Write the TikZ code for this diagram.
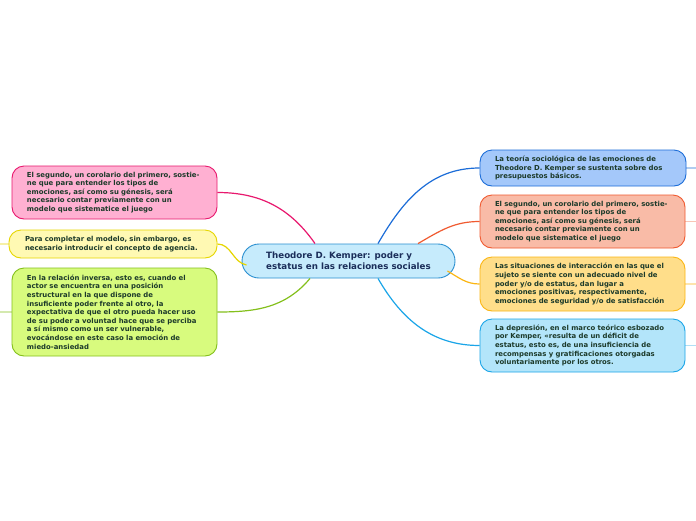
\documentclass[tikz,border=0pt]{standalone}
\usepackage{fontspec}
\setmainfont{DejaVu Sans}
\definecolor{txt}{HTML}{1C3A2A}
\definecolor{ctxt}{HTML}{1B2E5A}
\definecolor{pinkF}{HTML}{FFB0D2}\definecolor{pinkD}{HTML}{E8186E}
\definecolor{yelF}{HTML}{FFF9B3}\definecolor{yelD}{HTML}{E6D600}
\definecolor{grnF}{HTML}{D8FB7E}\definecolor{grnD}{HTML}{84C01C}
\definecolor{bluF}{HTML}{A4C8FA}\definecolor{bluD}{HTML}{1C6DD8}
\definecolor{salF}{HTML}{F9BBA7}\definecolor{salD}{HTML}{F05A30}
\definecolor{oraF}{HTML}{FFDE8A}\definecolor{oraD}{HTML}{FBB614}
\definecolor{lbF}{HTML}{B3E5FA}\definecolor{lbD}{HTML}{1AA5E8}
\definecolor{cenF}{HTML}{C6EBFC}\definecolor{cenD}{HTML}{2A8FD0}
\begin{document}
\begin{tikzpicture}[x=1pt,y=-1pt,
  box/.style={draw, line width=0.9pt, rounded corners=12pt, minimum width=205pt,
    text width=175pt, inner xsep=15pt, inner ysep=0pt, align=left,
    text=txt, font=\fontsize{6.9pt}{8.6pt}\selectfont\bfseries},
  conn/.style={line width=1.2pt},
  stub/.style={line width=1.2pt, opacity=0.35}]
\useasboundingbox (0,0) rectangle (696,520);
\fill[white] (0,0) rectangle (696,520);
% central
\node[draw=cenD, fill=cenF, line width=0.9pt, rounded corners=17pt, minimum width=213pt,
  minimum height=34pt, align=left, text=ctxt,
  font=\fontsize{8.7pt}{11pt}\selectfont\bfseries] (c) at (348.5,261)
  {Theodore D. Kemper: poder y\\estatus en las relaciones sociales};
% left
\node[box, draw=pinkD, fill=pinkF, minimum height=53pt] (p) at (114.5,192.5)
  {El segundo, un corolario del primero, sostie-\\ne que para entender los tipos de\\emociones, así como su génesis, será\\necesario contar previamente con un\\modelo que sistematice el juego};
\node[box, draw=yelD, fill=yelF, minimum height=28pt, minimum width=208pt, text width=176pt, inner xsep=16pt] (y) at (113,244)
  {Para completar el modelo, sin embargo, es\\necesario introducir el concepto de agencia.};
\node[box, draw=grnD, fill=grnF, minimum height=88pt] (g) at (114.5,312)
  {En la relación inversa, esto es, cuando el\\actor se encuentra en una posición\\estructural en la que dispone de\\insuficiente poder frente al otro, la\\expectativa de que el otro pueda hacer uso\\de su poder a voluntad hace que se perciba\\a sí mismo como un ser vulnerable,\\evocándose en este caso la emoción de\\miedo-ansiedad};
% right
\node[box, draw=bluD, fill=bluF, minimum height=36pt, minimum width=206pt, text width=176pt] (b) at (583,168)
  {La teoría sociológica de las emociones de\\Theodore D. Kemper se sustenta sobre dos\\presupuestos básicos.};
\node[box, draw=salD, fill=salF, minimum height=53pt] (s) at (582.5,221.5)
  {El segundo, un corolario del primero, sostie-\\ne que para entender los tipos de\\emociones, así como su génesis, será\\necesario contar previamente con un\\modelo que sistematice el juego};
\node[box, draw=oraD, fill=oraF, minimum height=54pt] (o) at (582.5,284)
  {Las situaciones de interacción en las que el\\sujeto se siente con un adecuado nivel de\\poder y/o de estatus, dan lugar a\\emociones positivas, respectivamente,\\emociones de seguridad y/o de satisfacción};
\node[box, draw=lbD, fill=lbF, minimum height=53pt] (l) at (582.5,345.5)
  {La depresión, en el marco teórico esbozado\\por Kemper, «resulta de un déficit de\\estatus, esto es, de una insuficiencia de\\recompensas y gratificaciones otorgadas\\voluntariamente por los otros.};
% connectors
\draw[conn, pinkD] (p.east) to[out=0,in=125] ([xshift=-33.5pt]c.north);
\draw[conn, yelD] (y.east) to[out=0,in=170] ([xshift=5pt,yshift=-4pt]c.west);
\draw[conn, grnD] (g.east) to[out=0,in=-130] ([xshift=-38.5pt]c.south);
\draw[conn, bluD] ([xshift=29.5pt]c.north) to[out=60,in=180] (b.west);
\draw[conn, salD] ([xshift=69.5pt]c.north) to[out=30,in=180] (s.west);
\draw[conn, oraD] ([xshift=-8pt,yshift=-10pt]c.east) to[out=-30,in=180] (o.west);
\draw[conn, lbD] ([xshift=29.5pt]c.south) to[out=-60,in=180] (l.west);
% stubs
\coordinate (sb) at (696,168);
\coordinate (ss) at (696,221.5);
\coordinate (so) at (696,284);
\coordinate (sl) at (696,345.5);
\coordinate (sy) at (0,244);
\coordinate (sg) at (0,312);
\draw[stub, bluD] (b.east) -- (sb);
\draw[stub, salD] (s.east) -- (ss);
\draw[stub, oraD] (o.east) -- (so);
\draw[stub, lbD] (l.east) -- (sl);
\draw[stub, yelD] (y.west) -- (sy);
\draw[stub, grnD] (g.west) -- (sg);
\end{tikzpicture}
\end{document}
